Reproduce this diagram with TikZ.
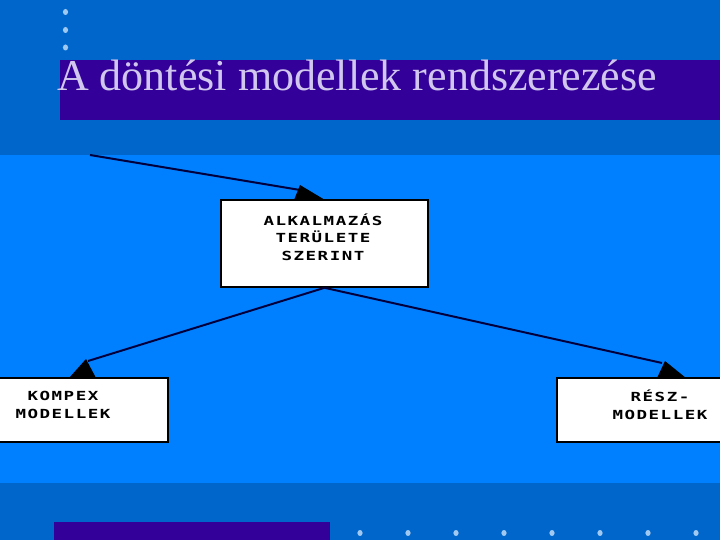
\documentclass[tikz,border=0pt]{standalone}
\usepackage{fontspec}
\setmainfont{Liberation Serif}
\newfontfamily\pixfont[FakeStretch=1.4,LetterSpace=12]{DejaVu Sans Mono}
\usepackage{tikz}
\definecolor{hatter}{RGB}{0,102,204}
\definecolor{sav}{RGB}{0,128,255}
\definecolor{lila}{RGB}{51,0,153}
\definecolor{cimszin}{RGB}{208,198,238}
\definecolor{pont}{RGB}{160,200,240}
\definecolor{vonalszin}{RGB}{0,0,60}

\begin{document}
\begin{tikzpicture}[x=1pt, y=-1pt,
    doboz/.style={draw=black, line width=1.6pt, fill=white, inner sep=0pt},
    felirat/.style={align=center, font=\pixfont\bfseries\fontsize{12.5}{17.5}\selectfont},
    vonal/.style={draw=vonalszin, line width=2pt}]
            \useasboundingbox (0,0) rectangle (720,540);
            % Hatter
            \fill[hatter] (0,0) rectangle (720,540);
            \fill[sav] (0,155) rectangle (720,483);
            \fill[lila] (60,60) rectangle (720,120);
            \fill[lila] (54,522) rectangle (330,540);
            
            % Pontok
            \foreach \y in {12, 30, 47.5} {
                \fill[pont] (65.5,\y) ellipse (2.6 and 3);
            }
            \foreach \x in {360, 408, 456, 504, 552, 600, 648, 696} {
                \fill[pont] (\x,533) ellipse (2.6 and 3);
            }
            
            % Cim
            \node[anchor=base west, inner sep=0pt, text=cimszin, font=\fontsize{44}{50}\selectfont] (cim) at (57,91) {A döntési modellek rendszerezése};
            
            % Dobozok
            \node[doboz, minimum width=207pt, minimum height=87pt] (alk) at (324.5,243.5) {};
            \node[felirat] (alkszoveg) at (323,237) {ALKALMAZÁS\\TERÜLETE\\SZERINT};
            
            \node[doboz, minimum width=178pt, minimum height=64pt] (komplex) at (79,410) {};
            \node[felirat] (komplexszoveg) at (63,405) {KOMPEX\\MODELLEK};
            
            \node[doboz, minimum width=170pt, minimum height=64pt] (resz) at (642,410) {};
            \node[felirat] (reszszoveg) at (660,405) {RÉSZ-\\MODELLEK};
            
            % Nyilak
            \coordinate (kezdet) at (90,155);
            \coordinate (hegyfent) at (300,190);
            \coordinate (hegybal) at (88,361);
            \coordinate (hegyjobb) at (662,363);
            
            \draw[vonal] (kezdet) -- (hegyfent);
            \draw[vonal] (alk.south) -- (hegybal);
            \draw[vonal] (alk.south) -- (hegyjobb);
            
            \fill (300,185) -- (294,200) -- (325,200) -- cycle;
            \fill (86,359) -- (69,378) -- (96,378) -- cycle;
            \fill (665,361) -- (657,378) -- (686,378) -- cycle;
        \end{tikzpicture}
\end{document}
